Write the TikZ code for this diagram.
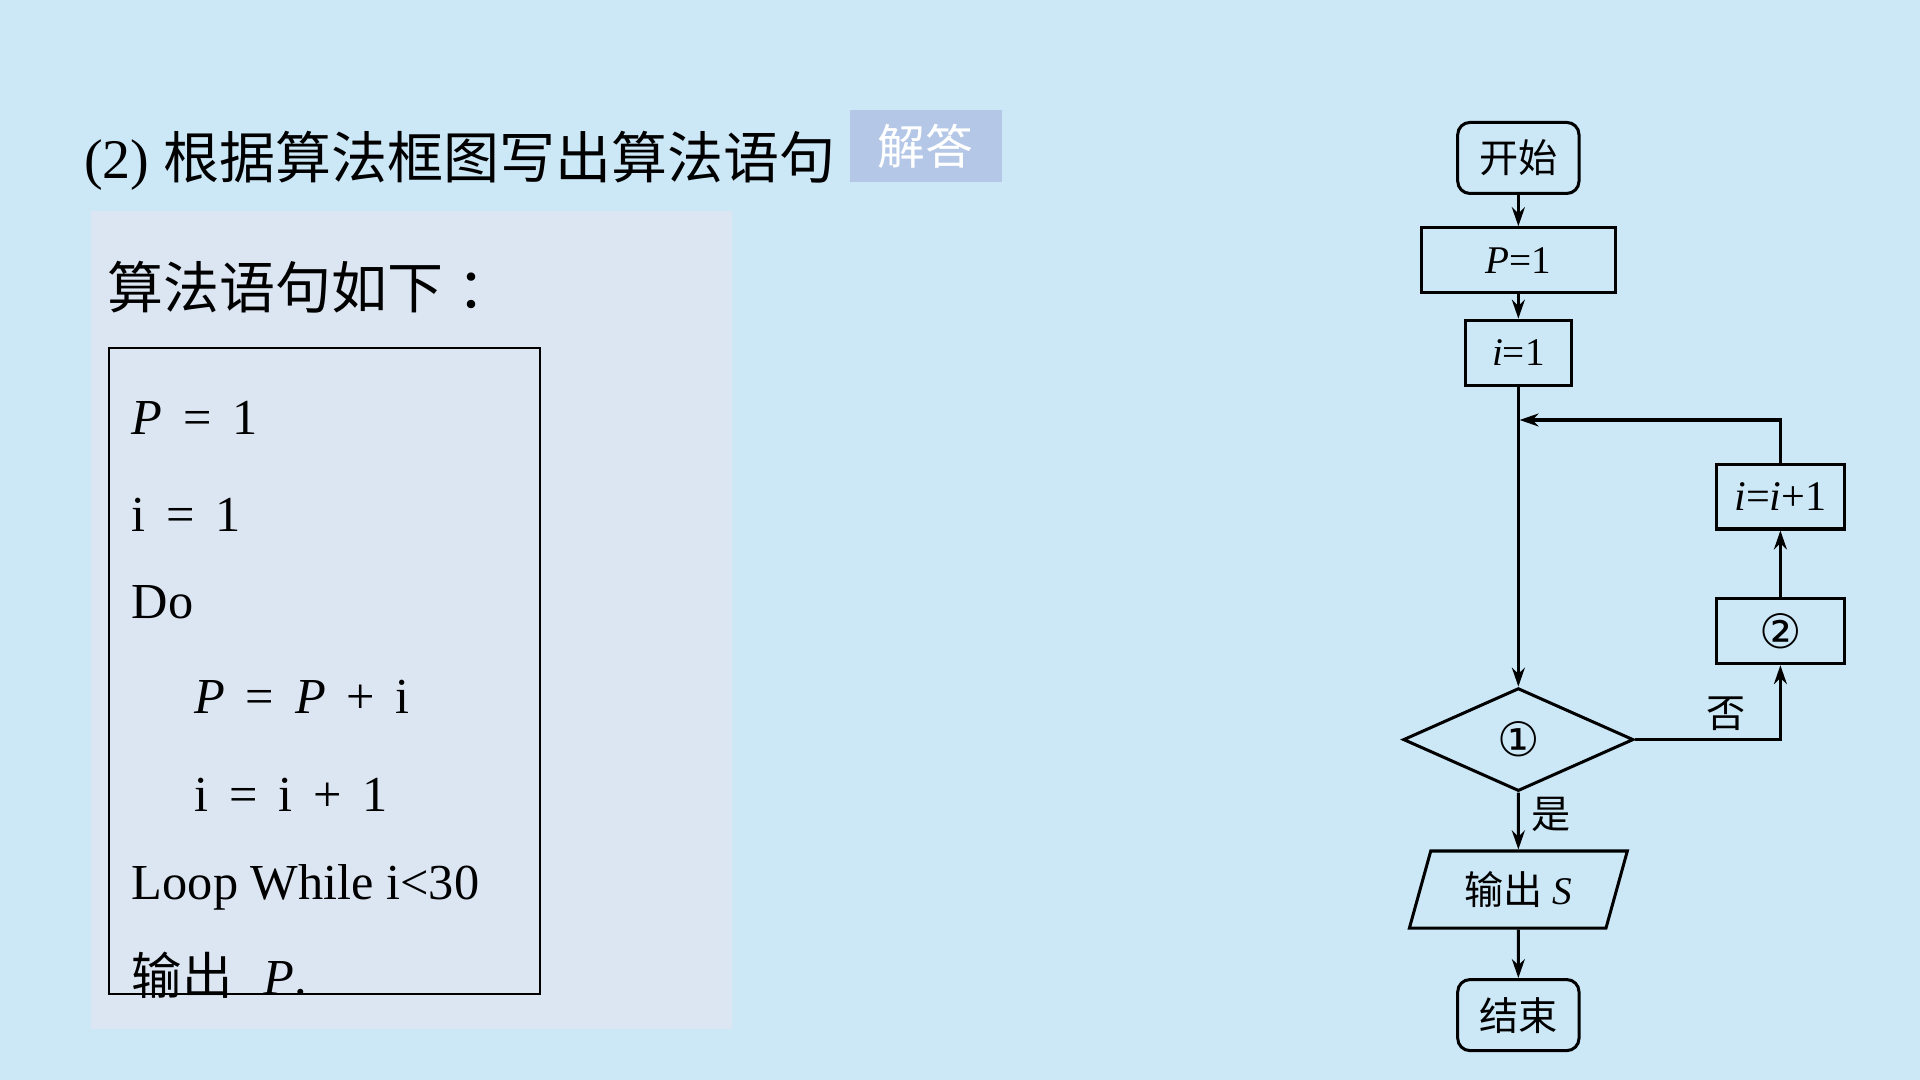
\documentclass[tikz,border=0pt]{standalone}
\usepackage{fontspec}
\setmainfont{Liberation Serif}
\newfontfamily\cjk{Noto Sans CJK SC}
\newfontfamily\symb{DejaVu Sans}
\usepackage{tikz}
\usetikzlibrary{shapes}
\usetikzlibrary{arrows}
\usetikzlibrary{arrows.meta}
\usetikzlibrary{positioning}

\definecolor{slidebg}{RGB}{204,232,246}
\definecolor{panelbg}{RGB}{220,230,242}
\definecolor{tagbg}{RGB}{180,199,231}
\newcommand\gap{\hspace{0.17cm}}

\begin{document}
\begin{tikzpicture}[x=0.01cm,y=-0.01cm,
  flowline/.style={line width=0.7pt,-{Stealth[length=4.4pt,width=3pt]}},
  procbox/.style={draw,line width=0.7pt,minimum height=0.53cm,inner sep=0pt,font=\fontsize{9.1}{11}\selectfont},
  termbox/.style={procbox,rounded corners=0.1cm,minimum width=0.99cm,minimum height=0.58cm},
  codeline/.style={anchor=base west,inner sep=0pt,font=\fontsize{11.7}{14}\selectfont}]
  \useasboundingbox (0,0) rectangle (1568,882);
  \fill[slidebg] (0,0) rectangle (1568,882);
  \fill[panelbg] (74,172) rectangle (598,840);
  % title and answer tag
  \node[anchor=base west,inner sep=0pt,font=\fontsize{13}{15}\selectfont] (title) at (68,146) {(2) {\cjk 根据算法框图写出算法语句}};
  \node[fill=tagbg,text=white,minimum width=1.24cm,minimum height=0.59cm,inner sep=0pt,font=\fontsize{11.1}{13}\cjk] (tag) at (756,119.5) {解答};
  \node[anchor=base west,inner sep=0pt,font=\fontsize{13}{15}\cjk] (head) at (87,252) {算法语句如下\hspace{0.12cm}：};
  % program
  \draw[line width=0.45pt] (89,284) rectangle (441,812);
  \foreach \yy/\xx/\txt in {355/107/{\textit{P}\gap=\gap1}, 434/107/{i\gap=\gap1}, 505/107/Do,
      583/158/{\textit{P}\gap=\gap\textit{P}\gap+\gap i}, 663/158/{i\gap=\gap i\gap+\gap1}, 735/107/{Loop While i<30}}
    \node[codeline] (code\yy) at (\xx,\yy) {\txt};
  \node[codeline] (codeout) at (107,812) {{\cjk 输出}\hspace{0.25cm}\textit{P}.};
  % flow chart
  \node[termbox] (start) at (1240,129) {\cjk 开始};
  \node[procbox,minimum width=1.58cm] (pinit) at (1240,212.5) {\textit{P}=1};
  \node[procbox,minimum width=0.87cm] (iinit) at (1240,288) {\textit{i}=1};
  \node[draw,line width=0.7pt,diamond,minimum width=1.88cm,minimum height=0.84cm,inner sep=0pt,font=\fontsize{11}{12}\symb] (cond) at (1240,604) {①};
  \node[procbox,minimum width=1.05cm,font=\fontsize{11}{12}\symb] (mark2) at (1454,515.5) {②};
  \node[procbox,minimum width=1.05cm,font=\fontsize{9.8}{11}\selectfont] (incr) at (1454,405.5) {\textit{i}=\textit{i}+1};
  \node[draw,line width=0.7pt,trapezium,trapezium left angle=70,trapezium right angle=110,trapezium stretches=true,
    minimum width=1.78cm,minimum height=0.63cm,inner sep=0pt,font=\fontsize{9.1}{11}\selectfont] (out) at (1240,726.5) {{\cjk 输出} \textit{S}};
  \node[termbox] (stop) at (1240,829) {\cjk 结束};
  \coordinate (back) at (1241,343);
  \draw[flowline] (start) -- (pinit);
  \draw[flowline] (pinit) -- (iinit);
  \draw[flowline] (iinit) -- (cond);
  \draw[flowline] (cond) -- (out);
  \draw[flowline] (out) -- (stop);
  \draw[flowline] (cond.east) -| (mark2.south);
  \draw[flowline] (mark2) -- (incr);
  \draw[flowline] (incr.north) |- (back);
  \node[font=\fontsize{9.1}{11}\cjk] (no) at (1410,583) {否};
  \node[font=\fontsize{9.1}{11}\cjk] (yes) at (1267,665) {是};
\end{tikzpicture}
\end{document}
